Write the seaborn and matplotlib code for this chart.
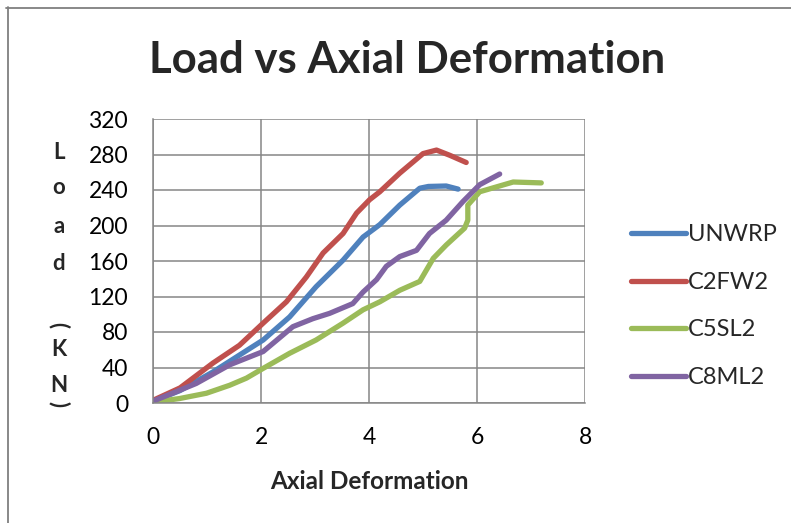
import numpy as np
import pandas as pd
import matplotlib
matplotlib.use("Agg")
import matplotlib.pyplot as plt
import seaborn as sns
from matplotlib.lines import Line2D

# ---- data ----
unwrp_x = [0.0, 0.5, 1.11, 1.42, 2.04, 2.53, 3.02, 3.52, 3.89, 4.2, 4.57, 4.94, 5.1, 5.43, 5.65]
unwrp_y = [2, 14, 35, 47, 71, 97, 131, 161, 187, 201, 223, 242, 244, 244.5, 241]

c2fw2_x = [0.0, 0.5, 1.11, 1.6, 2.04, 2.47, 2.84, 3.15, 3.52, 3.77, 4.01, 4.2, 4.57, 5.0, 5.25, 5.5, 5.8]
c2fw2_y = [3, 17, 45, 65, 90, 114, 142, 169, 191, 214, 229, 238, 259, 281, 285, 279, 271]

c5sl2_x = [0.0, 0.49, 0.99, 1.42, 1.73, 2.04, 2.53, 3.02, 3.52, 3.89, 4.2, 4.57, 4.94, 5.19, 5.43, 5.77, 5.83, 5.83, 6.05, 6.67, 7.19]
c5sl2_y = [1, 5, 11, 20, 28, 39, 56, 71, 90, 105, 114, 127, 137, 163, 178, 197, 206, 223, 238, 249, 248]

c8ml2_x = [0.0, 0.8, 1.42, 2.04, 2.59, 2.96, 3.27, 3.70, 3.89, 4.14, 4.32, 4.57, 4.88, 5.12, 5.43, 5.74, 6.05, 6.42]
c8ml2_y = [2, 22, 43, 58, 86, 95, 101, 112, 125, 139, 154, 165, 172, 191, 206, 227, 246, 258]

series_names = ["UNWRP", "C2FW2", "C5SL2", "C8ML2"]
series_colors = ["#4F81BD", "#C0504D", "#9BBB59", "#8064A2"]
x_ticks = [0, 2, 4, 6, 8]
y_ticks = [0, 40, 80, 120, 160, 200, 240, 280, 320]

frames = []
for name, xs, ys in zip(series_names,
                        [unwrp_x, c2fw2_x, c5sl2_x, c8ml2_x],
                        [unwrp_y, c2fw2_y, c5sl2_y, c8ml2_y]):
    frames.append(pd.DataFrame({"x": xs, "y": ys, "series": name, "order": range(len(xs))}))
df = pd.concat(frames, ignore_index=True)

sns.set_theme(style="white")
plt.rcParams["font.family"] = ["Lato", "DejaVu Sans"]

fig = plt.figure(figsize=(7.91, 5.23), dpi=100)
ax = fig.add_axes([153 / 791, 120 / 523, (585 - 153) / 791, (403 - 119) / 523])

grid_c = "#868686"
sns.lineplot(data=df, x="x", y="y", hue="series", hue_order=series_names,
             palette=series_colors, sort=False, estimator=None, ax=ax,
             linewidth=3.8, solid_capstyle="round", solid_joinstyle="round", legend=False)

ax.set_xlim(0, 8)
ax.set_ylim(0, 320)
ax.set_xticks(x_ticks)
ax.set_yticks(y_ticks)
ax.set_xticklabels([str(v) for v in x_ticks])
ax.set_yticklabels([str(v) for v in y_ticks])
ax.grid(True, color=grid_c, linewidth=1.1)
ax.set_axisbelow(True)
for s in ["top", "right"]:
    ax.spines[s].set_visible(False)
for s in ["left", "bottom"]:
    ax.spines[s].set_color(grid_c)
    ax.spines[s].set_linewidth(1.1)
ax.tick_params(axis="both", colors=grid_c, length=6, width=1.1, labelsize=16.5,
               labelcolor="black", direction="out")
ax.tick_params(axis="x", pad=11)
ax.tick_params(axis="y", pad=12)
ax.set_xlabel("Axial Deformation", fontsize=17.5, fontweight="bold", labelpad=16)
ax.set_ylabel("")

fig.text(407 / 791, 1 - 60 / 523, "Load vs Axial Deformation", ha="center", va="center",
         fontsize=31.5, fontweight="bold")

# stacked y-label letters
letters = [("L", 152, 0), ("o", 188, 0), ("a", 227, 0), ("d", 263, 0),
           ("(", 325, -90), ("K", 350, 0), ("N", 386, 0), (")", 404, -90)]
for ch, yy, rot in letters:
    fig.text(59 / 791, 1 - yy / 523, ch, ha="center", va="center", fontsize=16,
             fontweight="bold", rotation=rot)

# legend
handles = [Line2D([0], [0], color=c, linewidth=3.8, solid_capstyle="round") for c in series_colors]
leg = fig.legend(handles, series_names, loc="upper left", bbox_to_anchor=(622 / 791, 1 - 215 / 523),
                 frameon=False, fontsize=17, handlelength=2.3, handletextpad=0.1,
                 labelspacing=1.12, borderaxespad=0)

# outer frame
fig.add_artist(Line2D([6 / 791, 1.0], [1 - 7.5 / 523] * 2, transform=fig.transFigure,
                      color="#7f7f7f", linewidth=1.3))
fig.add_artist(Line2D([7.5 / 791] * 2, [0, 1 - 7 / 523], transform=fig.transFigure,
                      color="#7f7f7f", linewidth=1.3))

fig.savefig("out.png", dpi=100)
